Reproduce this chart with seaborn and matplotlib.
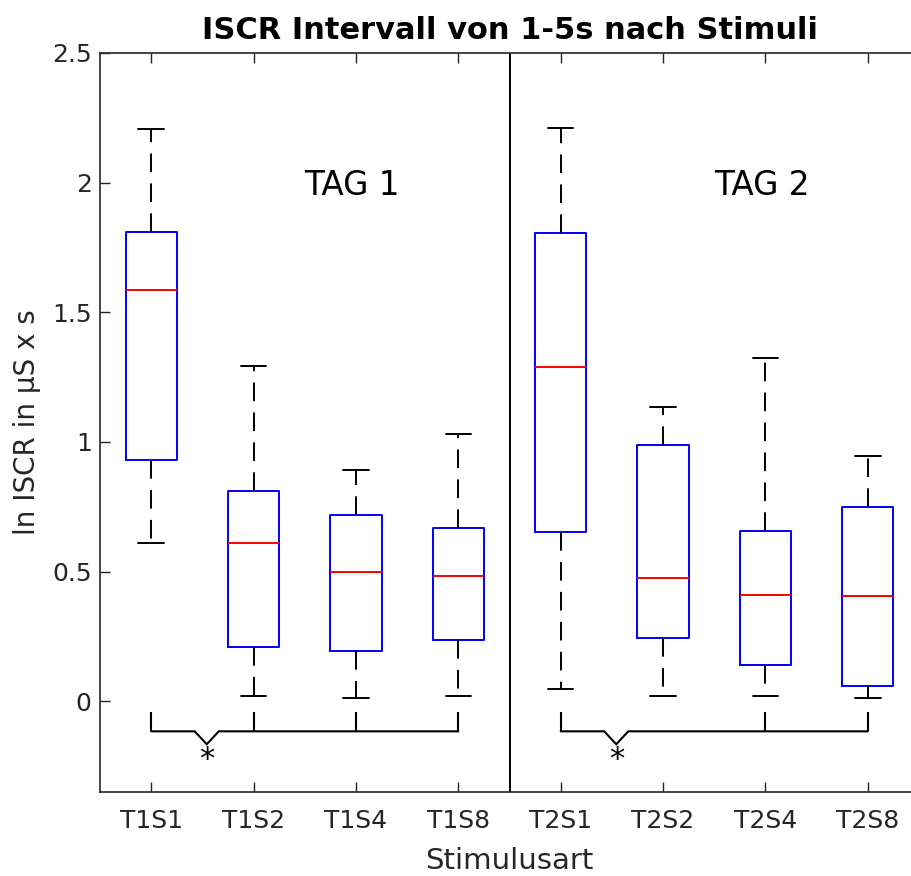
import numpy as np
import pandas as pd
import matplotlib
matplotlib.use("Agg")
import matplotlib.pyplot as plt
import seaborn as sns

# ---- data ----
categories = ["T1S1", "T1S2", "T1S4", "T1S8", "T2S1", "T2S2", "T2S4", "T2S8"]
lower_whisker = [0.610, 0.019, 0.012, 0.019, 0.046, 0.019, 0.019, 0.012]
q1_values = [0.930, 0.208, 0.193, 0.235, 0.652, 0.243, 0.139, 0.058]
median_values = [1.586, 0.610, 0.498, 0.482, 1.289, 0.475, 0.409, 0.405]
q3_values = [1.809, 0.810, 0.720, 0.667, 1.806, 0.988, 0.656, 0.748]
upper_whisker = [2.207, 1.292, 0.891, 1.030, 2.211, 1.134, 1.323, 0.945]
ytick_values = [0, 0.5, 1, 1.5, 2, 2.5]
ytick_labels = ["0", "0.5", "1", "1.5", "2", "2.5"]
day_labels = ["TAG 1", "TAG 2"]
bracket_groups = [["T1S1", "T1S2", "T1S4", "T1S8"], ["T2S1", "T2S4", "T2S8"]]

# five-number summaries as data (percentiles of 5 points reproduce them exactly)
rows = []
for i, c in enumerate(categories):
    for v in (lower_whisker[i], q1_values[i], median_values[i], q3_values[i], upper_whisker[i]):
        rows.append({"Stimulusart": c, "value": v})
df = pd.DataFrame(rows)

sns.set_theme(style="ticks")
plt.rcParams["font.family"] = ["DejaVu Sans"]

fig = plt.figure(figsize=(9.11, 8.76), dpi=100)
ax = fig.add_axes([100 / 911, 1 - 792 / 876, 819 / 911, 739 / 876])

lw = 1.4
sns.boxplot(
    data=df, x="Stimulusart", y="value", order=categories,
    whis=(0, 100), width=0.5, fill=False, showfliers=False, ax=ax,
    boxprops=dict(color="#0000ff", linewidth=lw),
    medianprops=dict(color="#ff0000", linewidth=lw),
    whiskerprops=dict(color="black", linewidth=lw, linestyle=(0, (9.6, 5.8))),
    capprops=dict(color="black", linewidth=lw),
)

ax.set_xlim(-0.5, 7.5)
ax.set_ylim(-0.35, 2.5)
ax.set_yticks(ytick_values)
ax.set_yticklabels(ytick_labels)

tick_fs = 18
ax.tick_params(axis="both", direction="in", length=7, width=1, colors="#262626",
               labelsize=tick_fs, top=True, right=False)
ax.tick_params(axis="x", pad=12)
ax.tick_params(axis="y", pad=6)
for name, s in ax.spines.items():
    s.set_visible(name != "right")
    s.set_color("#262626")
    s.set_linewidth(1.2)

ax.set_xlabel("Stimulusart", fontsize=21, color="#262626", labelpad=10)
ax.set_ylabel("ln ISCR in µS x s", fontsize=20, color="#262626", labelpad=8)
ax.set_title("ISCR Intervall von 1-5s nach Stimuli", fontsize=22, fontweight="bold",
             color="black", pad=10)

# divider between days
ax.axvline(3.5, color="black", linewidth=1.4)

# day labels
ax.text(1.96, 1.99, day_labels[0], fontsize=23.5, color="black", ha="center", va="center")
ax.text(5.97, 1.99, day_labels[1], fontsize=23.5, color="black", ha="center", va="center")

# significance brackets
pos = {c: i for i, c in enumerate(categories)}
y_top, y_bar, y_notch = -0.04, -0.116, -0.166
for grp in bracket_groups:
    xs = [pos[c] for c in grp]
    x0, x1 = min(xs), max(xs)
    for x in xs:
        ax.plot([x, x], [y_top, y_bar], color="black", linewidth=1.5, solid_capstyle="butt")
    nx0, nxm, nx1 = x0 + 0.425, x0 + 0.543, x0 + 0.66
    ax.plot([x0, nx0, nxm, nx1, x1], [y_bar, y_bar, y_notch, y_bar, y_bar],
            color="black", linewidth=1.5, solid_joinstyle="miter")
    ax.text(nxm, -0.225, "*", fontsize=22, color="black", ha="center", va="center")

fig.savefig("out.png", dpi=100)
